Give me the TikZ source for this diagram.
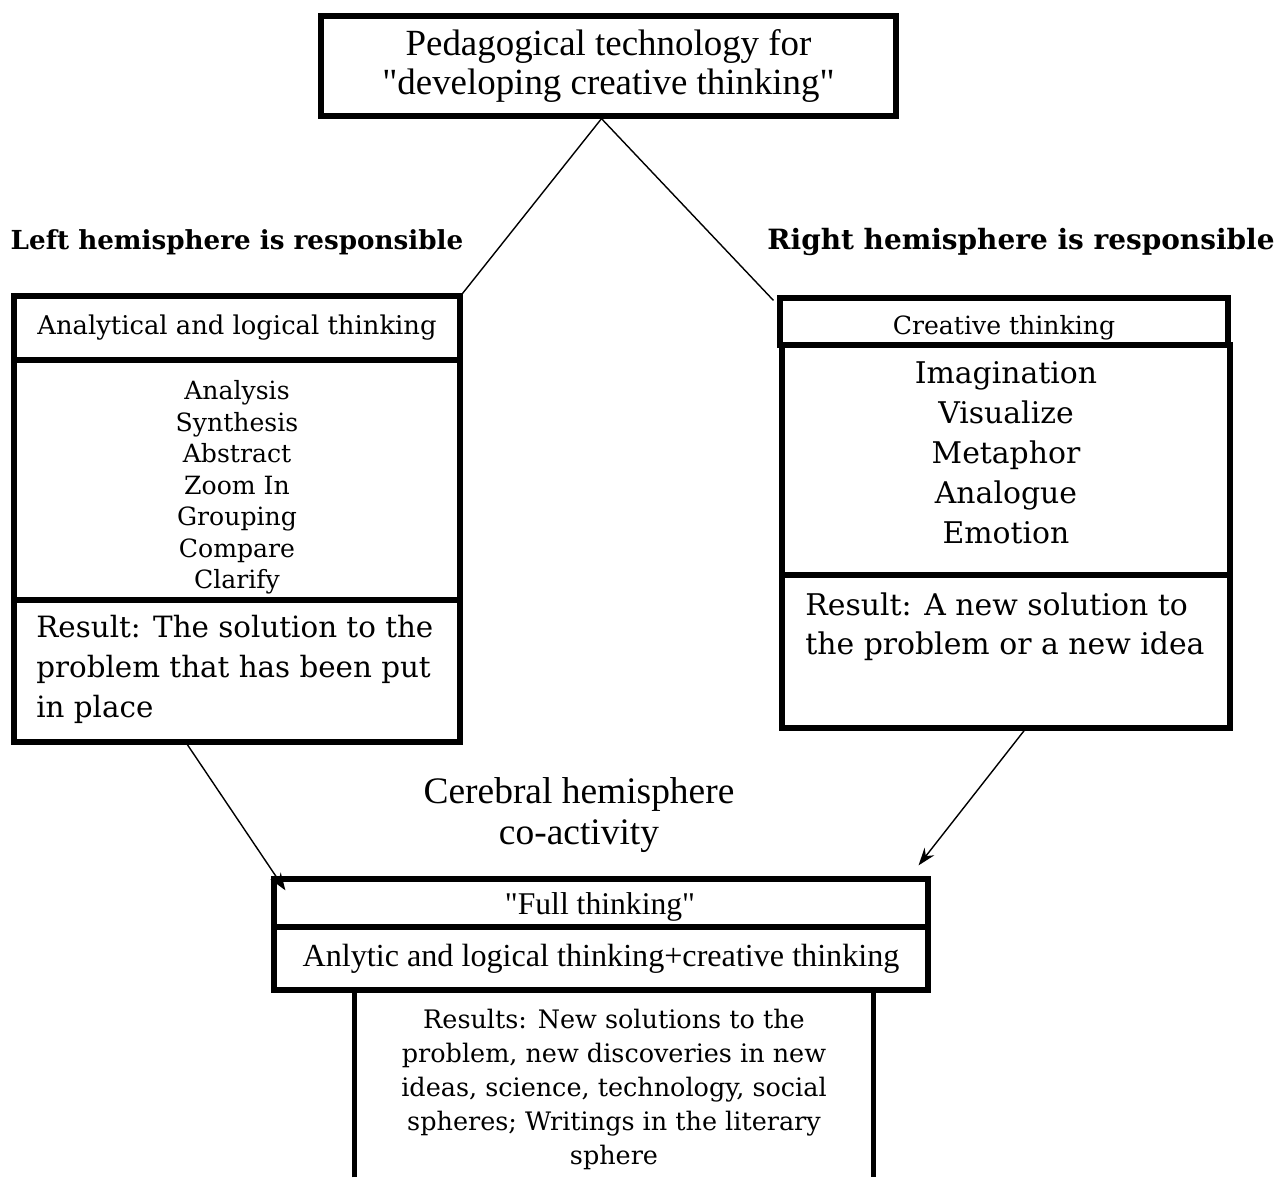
\documentclass[tikz,border=0pt]{standalone}
\usepackage{fontspec}
\setmainfont{Liberation Serif}
\newfontfamily\geo{DejaVu Serif}
\usetikzlibrary{arrows.meta,calc}
\begin{document}
\begin{tikzpicture}[x=0.02cm,y=-0.02cm]
\tikzset{
  box/.style={draw, line width=3pt, inner sep=0pt, align=center},
  txt/.style={inner sep=0pt, align=center},
  conn/.style={line width=0.8pt},
  arr/.style={line width=0.8pt,-{Stealth[length=10pt,width=7pt]}},
  hd/.style={font=\geo\bfseries\fontsize{14.9}{17}\selectfont}
}
\useasboundingbox (0,0) rectangle (1278,1177);
% title
\node[box, minimum width=11.5cm, minimum height=2cm, font=\fontsize{21}{22.5}\selectfont] (title) at (608.5,66) {Pedagogical technology for\\\textquotedbl developing creative thinking\textquotedbl};
% headings
\node[hd] (lh) at (237,242) {Left hemisphere is responsible};
\node[hd, font=\geo\bfseries\fontsize{15.9}{18}\selectfont] (rh) at (1021,242) {Right hemisphere is responsible};
% left column
\node[box, minimum width=8.92cm, minimum height=1.28cm, font=\geo\fontsize{14.7}{16}\selectfont] (lt) at (237,328) {Analytical and logical thinking};
\node[box, minimum width=8.92cm, minimum height=4.8cm] (ll) at (237,480) {};
\node[txt, font=\geo\fontsize{14.3}{17.9}\selectfont] (llt) at (237,487.5) {Analysis\\Synthesis\\Abstract\\Zoom In\\Grouping\\Compare\\Clarify};
\node[box, minimum width=8.92cm, minimum height=2.84cm] (lr) at (237,671) {};
\node[anchor=north west, inner sep=0pt, align=left, font=\geo\fontsize{16.7}{22.7}\selectfont] (lrt) at (36,615) {Result: The solution to the\\problem that has been put\\in place};
% right column
\node[box, minimum width=8.96cm, minimum height=0.94cm] (rt) at (1004,321.5) {};
\node[txt, font=\geo\fontsize{14.3}{16}\selectfont] (rtt) at (1004,328) {Creative thinking};
\node[box, minimum width=8.96cm, minimum height=4.6cm] (rl) at (1006,460) {};
\node[txt, font=\geo\fontsize{17}{22.7}\selectfont] (rlt) at (1006,452.5) {Imagination\\Visualize\\Metaphor\\Analogue\\Emotion};
\node[box, minimum width=8.96cm, minimum height=3.06cm] (rr) at (1006,651.5) {};
\node[anchor=north west, inner sep=0pt, align=left, font=\geo\fontsize{17}{22.7}\selectfont] (rrt) at (805,592) {Result: A new solution to\\the problem or a new idea};
% middle label
\node[txt, font=\fontsize{21.3}{23.5}\selectfont] (co) at (579,815) {Cerebral hemisphere\\co-activity};
% bottom
\node[box, minimum width=13.08cm, minimum height=0.96cm] (ft) at (601,903) {};
\node[txt, font=\fontsize{18}{18}\selectfont] (ftt) at (600,907) {\textquotedbl Full thinking\textquotedbl};
\node[box, minimum width=13.08cm, minimum height=1.26cm, font=\fontsize{18.3}{18}\selectfont] (an) at (601,958.5) {Anlytic and logical thinking+creative thinking};
\node[inner sep=0pt, minimum width=10.36cm, minimum height=3.74cm] (res) at (614,1083.5) {};
\node[txt, font=\geo\fontsize{14.5}{19.3}\selectfont] (rest) at (614,1089.5) {Results: New solutions to the\\problem, new discoveries in new\\ideas, science, technology, social\\spheres; Writings in the literary\\sphere};
\draw[line width=3pt] (res.south west) -- (res.north west) -- (res.north east) -- (res.south east);
% connectors
\draw[conn] ([shift={(-7,0)}]title.south) -- (lt.north east);
\draw[conn] ([shift={(-7,0)}]title.south) -- ([shift={(-4,5)}]rt.north west);
\draw[arr] ($(lr.south west)!0.39!(lr.south east)$) -- ([shift={(14,14)}]ft.north west);
\draw[arr] ($(rr.south west)!0.54!(rr.south east)$) -- ([shift={(-12,-11)}]ft.north east);
\end{tikzpicture}
\end{document}
